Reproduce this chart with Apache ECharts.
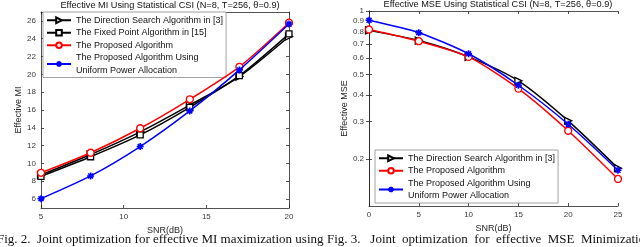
<!DOCTYPE html>
<html><head><meta charset="utf-8">
<script src="https://cdn.jsdelivr.net/npm/echarts@6/dist/echarts.min.js"></script>
<style>html,body{margin:0;padding:0;background:#fff}#c{width:640px;height:247px}</style>
</head><body><div id="c"></div>
<script>
// ---- Data: left chart (Effective MI) ----
const snrMI = [5, 8, 11, 14, 17, 20];
const miDirection = [8.7, 11.0, 13.55, 16.55, 19.75, 24.25];
const miFixedPoint = [8.55, 10.75, 13.2, 16.3, 19.85, 24.55];
const miProposed = [8.95, 11.2, 13.95, 17.2, 20.85, 25.8];
const miUniform = [6.05, 8.6, 11.9, 15.9, 20.5, 25.65];
const miYTicks = [6, 8, 10, 12, 14, 16, 18, 20, 22, 24, 26];
const miXTicks = [5, 10, 15, 20];

// ---- Data: right chart (Effective MSE) ----
const snrMSE = [0, 5, 10, 15, 20, 25];
const mseDirection = [0.81, 0.725, 0.607, 0.468, 0.303, 0.181];
const mseProposed = [0.818, 0.72, 0.607, 0.43, 0.272, 0.161];
const mseUniform = [0.904, 0.79, 0.628, 0.446, 0.292, 0.177];
const mseYTicks = [0.2, 0.3, 0.4, 0.5, 0.6, 0.7, 0.8, 0.9, 1];
const mseXTicks = [0, 5, 10, 15, 20, 25];

const nDir = 'The Direction Search Algorithm in [3]';
const nFix = 'The Fixed Point Algorithm in [15]';
const nProp = 'The Proposed Algorithm';
const nUni = 'The Proposed Algorithm Using\nUniform Power Allocation';

const FONT = 'Liberation Sans';
const AX = '#262626';
const triRight = 'path://M0,0L10,5L0,10Z';
const star = 'path://M5,0L5,10M0,5L10,5M1.5,1.5L8.5,8.5M8.5,1.5L1.5,8.5';

function pairs(xs, ys) { return xs.map((x, i) => [x, ys[i]]); }

function mainX(grid, min, max, ticks, name) {
  return {
    type: 'value', gridIndex: grid, min, max, interval: 5, position: 'bottom',
    name, nameLocation: 'middle', nameGap: 14,
    nameTextStyle: { fontFamily: FONT, fontSize: 9, color: AX },
    axisLine: { show: true, lineStyle: { color: AX, width: 0.8 } },
    axisTick: { show: true, inside: true, length: 3, lineStyle: { color: AX, width: 0.8 } },
    axisLabel: { fontFamily: FONT, fontSize: 8, color: '#3a3a3a', margin: 5 },
    splitLine: { show: false }
  };
}
function boxX(grid, min, max) {
  return {
    type: 'value', gridIndex: grid, min, max, interval: 5, position: 'top',
    axisLine: { show: true, lineStyle: { color: AX, width: 0.8 } },
    axisTick: { show: true, inside: true, length: 3, lineStyle: { color: AX, width: 0.8 } },
    axisLabel: { show: false }, splitLine: { show: false }
  };
}

const series = [
  // left
  { name: nDir, type: 'line', xAxisIndex: 0, yAxisIndex: 0, data: pairs(snrMI, miDirection), smooth: 0.25,
    symbol: triRight, symbolSize: 7, lineStyle: { color: '#000', width: 1.5 },
    itemStyle: { color: '#fff', borderColor: '#000', borderWidth: 1.3 }, z: 3 },
  { name: nFix, type: 'line', xAxisIndex: 0, yAxisIndex: 0, data: pairs(snrMI, miFixedPoint), smooth: 0.25,
    symbol: 'rect', symbolSize: 6, lineStyle: { color: '#000', width: 1.5 },
    itemStyle: { color: '#fff', borderColor: '#000', borderWidth: 1.3 }, z: 3 },
  { name: nProp, type: 'line', xAxisIndex: 0, yAxisIndex: 0, data: pairs(snrMI, miProposed), smooth: 0.25,
    symbol: 'circle', symbolSize: 7, lineStyle: { color: '#ff0000', width: 1.5 },
    itemStyle: { color: '#fff', borderColor: '#ff0000', borderWidth: 1.3 }, z: 4 },
  { name: nUni, type: 'line', xAxisIndex: 0, yAxisIndex: 0, data: pairs(snrMI, miUniform), smooth: 0.25,
    symbol: star, symbolSize: 7, lineStyle: { color: '#0000ff', width: 1.5 },
    itemStyle: { color: '#0000ff', borderColor: '#0000ff', borderWidth: 1.6 }, z: 5 },
  // right
  { name: nDir, type: 'line', xAxisIndex: 2, yAxisIndex: 2, data: pairs(snrMSE, mseDirection), smooth: 0.25,
    symbol: triRight, symbolSize: 7, lineStyle: { color: '#000', width: 1.5 },
    itemStyle: { color: '#fff', borderColor: '#000', borderWidth: 1.3 }, z: 3 },
  { name: nProp, type: 'line', xAxisIndex: 2, yAxisIndex: 2, data: pairs(snrMSE, mseProposed), smooth: 0.25,
    symbol: 'circle', symbolSize: 7, lineStyle: { color: '#ff0000', width: 1.5 },
    itemStyle: { color: '#fff', borderColor: '#ff0000', borderWidth: 1.3 }, z: 4 },
  { name: nUni, type: 'line', xAxisIndex: 2, yAxisIndex: 2, data: pairs(snrMSE, mseUniform), smooth: 0.25,
    symbol: star, symbolSize: 7, lineStyle: { color: '#0000ff', width: 1.5 },
    itemStyle: { color: '#0000ff', borderColor: '#0000ff', borderWidth: 1.6 }, z: 5 }
];

const legendCommon = {
  orient: 'vertical', backgroundColor: '#fff', borderColor: '#8a8a8a', borderWidth: 0.8,
  padding: [2, 3, 1, 3], itemGap: 0, itemWidth: 24, itemHeight: 7, borderRadius: 0,
  textStyle: { fontFamily: FONT, fontSize: 9, color: '#111', lineHeight: 12.5 },
  selectedMode: false
};

const option = {
  animation: false,
  backgroundColor: '#fff',
  title: [
    { text: 'Effective MI Using Statistical CSI (N=8, T=256, θ=0.9)', left: 165, textAlign: 'center', top: -4,
      textStyle: { fontFamily: FONT, fontSize: 9.2, fontWeight: 'normal', color: '#111' } },
    { text: 'Effective MSE Using Statistical CSI (N=8, T=256, θ=0.9)', left: 493, textAlign: 'center', top: -5,
      textStyle: { fontFamily: FONT, fontSize: 9.2, fontWeight: 'normal', color: '#111' } }
  ],
  grid: [
    { left: 41, top: 12, width: 248, height: 196, show: false },
    { left: 369, top: 11, width: 249, height: 195, show: false }
  ],
  legend: [
    Object.assign({ left: 43, top: 12, data: [nDir, nFix, nProp, nUni] }, legendCommon),
    Object.assign({ left: 375, top: 150, data: [nDir, nProp, nUni] }, legendCommon)
  ],
  xAxis: [
    mainX(0, 5, 20, miXTicks, 'SNR(dB)'),
    boxX(0, 5, 20),
    mainX(1, 0, 25, mseXTicks, 'SNR(dB)'),
    boxX(1, 0, 25)
  ],
  yAxis: [
    { type: 'value', gridIndex: 0, min: 5, max: 27, position: 'left',
      name: 'Effective MI', nameLocation: 'middle', nameGap: 16,
      nameTextStyle: { fontFamily: FONT, fontSize: 9, color: AX },
      axisLine: { show: true, lineStyle: { color: AX, width: 0.8 } },
      axisTick: { show: true, inside: true, length: 3, customValues: miYTicks, lineStyle: { color: AX, width: 0.8 } },
      axisLabel: { fontFamily: FONT, fontSize: 8, color: '#3a3a3a', margin: 5, customValues: miYTicks },
      splitLine: { show: false } },
    { type: 'value', gridIndex: 0, min: 5, max: 27, position: 'right',
      axisLine: { show: true, lineStyle: { color: AX, width: 0.8 } },
      axisTick: { show: true, inside: true, length: 3, customValues: miYTicks, lineStyle: { color: AX, width: 0.8 } },
      axisLabel: { show: false }, splitLine: { show: false } },
    { type: 'log', logBase: 10, gridIndex: 1, min: 0.12, max: 1, position: 'left',
      name: 'Effective MSE', nameLocation: 'middle', nameGap: 19,
      nameTextStyle: { fontFamily: FONT, fontSize: 9, color: AX },
      axisLine: { show: true, lineStyle: { color: AX, width: 0.8 } },
      axisTick: { show: true, inside: true, length: 3, customValues: mseYTicks, lineStyle: { color: AX, width: 0.8 } },
      axisLabel: { fontFamily: FONT, fontSize: 8, color: '#3a3a3a', margin: 5, customValues: mseYTicks,
        formatter: v => String(Math.round(v * 10) / 10) },
      splitLine: { show: false } },
    { type: 'log', logBase: 10, gridIndex: 1, min: 0.12, max: 1, position: 'right',
      axisLine: { show: true, lineStyle: { color: AX, width: 0.8 } },
      axisTick: { show: true, inside: true, length: 3, customValues: mseYTicks, lineStyle: { color: AX, width: 0.8 } },
      axisLabel: { show: false }, splitLine: { show: false } }
  ],
  series: series,
  graphic: [
    { type: 'text', left: -3, top: 233, z: 10,
      style: { text: 'Fig. 2.  Joint optimization for effective MI maximization using', fontFamily: 'Liberation Serif', fontSize: 13, fill: '#111' } },
    { type: 'text', left: 327, top: 233, z: 10,
      style: { text: 'Fig. 3.   Joint  optimization  for  effective  MSE  Minimization', fontFamily: 'Liberation Serif', fontSize: 13, fill: '#111' } }
  ]
};

const chart = echarts.init(document.getElementById('c'), null, { renderer: 'canvas' });
chart.setOption(option);
</script>
</body></html>
